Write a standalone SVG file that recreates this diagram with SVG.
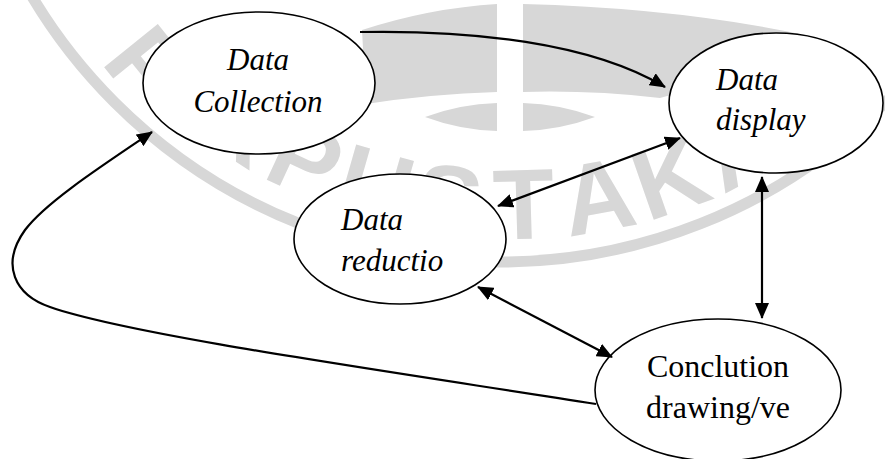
<svg xmlns="http://www.w3.org/2000/svg" width="885" height="459" viewBox="0 0 885 459">
<defs>
<marker id="ah" markerUnits="userSpaceOnUse" markerWidth="16" markerHeight="14" viewBox="0 0 16 14" refX="15" refY="7" orient="auto-start-reverse"><path d="M0,0 L16,7 L0,14 Z" fill="#000"/></marker>
<style>
.node ellipse{fill:#fff;stroke:#000;stroke-width:1.6}
.lbl{font-family:"Liberation Serif","Times New Roman",serif;font-size:31px;fill:#000}
.it{font-style:italic}
.conn path{fill:none;stroke:#000;stroke-width:2.2}
.wm{fill:#d7d7d7}
.wmt{font-family:"Liberation Sans",Arial,sans-serif;font-weight:bold;font-size:100px;fill:#d7d7d7}
</style>
</defs>
<rect width="885" height="459" fill="#fff"/>
<g id="watermark">
<circle cx="500" cy="-283" r="545" fill="none" stroke="#d7d7d7" stroke-width="11"/>
<text class="wmt" transform="translate(100 62) rotate(51.2)">P</text>
<text class="wmt" transform="translate(191 131.8) rotate(33.6)">R</text>
<text class="wmt" transform="translate(260.7 176.9) rotate(24.8)">P</text>
<text class="wmt" transform="translate(331.4 208.9) rotate(16)">U</text>
<text class="wmt" transform="translate(411.5 230.7) rotate(7.2)">S</text>
<text class="wmt" transform="translate(494.1 239.7) rotate(-1.6)">T</text>
<text class="wmt" transform="translate(568.7 236.9) rotate(-10.4)">A</text>
<text class="wmt" transform="translate(647.6 221.9) rotate(-19.2)">K</text>
<text class="wmt" transform="translate(723.2 194.8) rotate(-28)">A</text>
<path class="wm" d="M362 30 Q430 8 497 4 L497 92 Q430 94 366 104 Z"/>
<path class="wm" d="M523 4 Q680 8 810 36 L770 80 Q700 86 660 98 Q590 90 523 92 Z"/>
<path class="wm" d="M425 117 Q460 104 497 103 L497 131 Q460 130 425 117 Z"/>
<path class="wm" d="M523 103 Q560 104 595 117 Q560 130 523 131 Z"/>
</g>
<g id="n-collection" class="node">
<ellipse cx="259" cy="83" rx="116" ry="71"/>
<text class="lbl it" x="258" y="70" text-anchor="middle">Data</text>
<text class="lbl it" x="258" y="112" text-anchor="middle">Collection</text>
</g>
<g id="n-display" class="node">
<ellipse cx="776" cy="103" rx="107" ry="70"/>
<text class="lbl it" x="716" y="90">Data</text>
<text class="lbl it" x="716" y="130">display</text>
</g>
<g id="n-reduction" class="node">
<ellipse cx="400" cy="239" rx="106" ry="65"/>
<text class="lbl it" x="341" y="230">Data</text>
<text class="lbl it" x="341" y="271">reductio</text>
</g>
<g id="n-conclusion" class="node">
<ellipse cx="718" cy="390" rx="123" ry="71"/>
<text class="lbl" x="718" y="377" text-anchor="middle" style="font-size:32px">Conclution</text>
<text class="lbl" x="718" y="418" text-anchor="middle" style="font-size:32px">drawing/ve</text>
</g>
<g id="connectors" class="conn">
<path d="M360 32 C470 30 590 42 665 87" marker-end="url(#ah)"/>
<path d="M680 138 L498 206" marker-start="url(#ah)" marker-end="url(#ah)"/>
<path d="M762 177 L762 318" marker-start="url(#ah)" marker-end="url(#ah)"/>
<path d="M478 287 L612 357" marker-start="url(#ah)" marker-end="url(#ah)"/>
<path d="M596 404 C380 370 130 335 50 307 C15 295 0 265 25 230 C45 203 100 167 152 132" marker-end="url(#ah)"/>
</g>
</svg>
